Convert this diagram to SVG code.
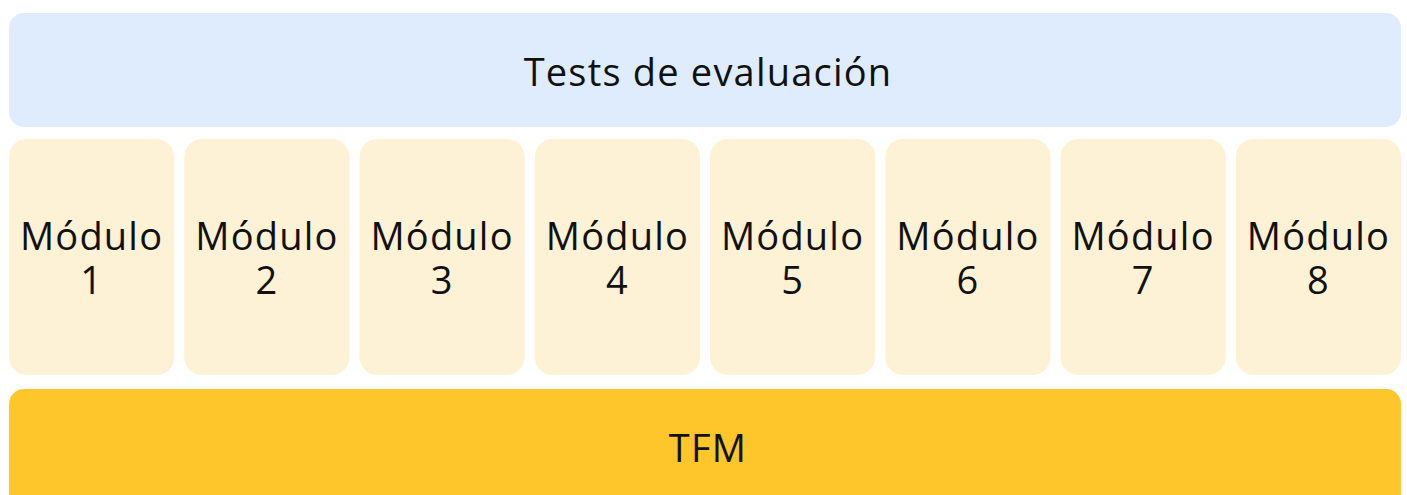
<svg xmlns="http://www.w3.org/2000/svg" width="1407" height="495" viewBox="0 0 1407 495">
<style>
.t{font-family:"Open Sans","Liberation Sans",sans-serif;font-size:38px;fill:#111;text-anchor:middle;letter-spacing:1.2px}
.m{fill:#FEF2D6}
</style>
<rect width="1407" height="495" fill="#fff"/>
<g id="tests"><rect x="9" y="13" width="1392" height="114" rx="15" fill="#DFECFE"/><text class="t" x="708" y="86">Tests de evaluación</text></g>
<g id="m1"><rect class="m" x="9" y="139" width="165.25" height="236" rx="18"/><text class="t" x="91.6" y="250">Módulo</text><text class="t" x="91.6" y="294">1</text></g>
<g id="m2"><rect class="m" x="184.25" y="139" width="165.25" height="236" rx="18"/><text class="t" x="266.9" y="250">Módulo</text><text class="t" x="266.9" y="294">2</text></g>
<g id="m3"><rect class="m" x="359.5" y="139" width="165.25" height="236" rx="18"/><text class="t" x="442.1" y="250">Módulo</text><text class="t" x="442.1" y="294">3</text></g>
<g id="m4"><rect class="m" x="534.75" y="139" width="165.25" height="236" rx="18"/><text class="t" x="617.4" y="250">Módulo</text><text class="t" x="617.4" y="294">4</text></g>
<g id="m5"><rect class="m" x="710" y="139" width="165.25" height="236" rx="18"/><text class="t" x="792.6" y="250">Módulo</text><text class="t" x="792.6" y="294">5</text></g>
<g id="m6"><rect class="m" x="885.25" y="139" width="165.25" height="236" rx="18"/><text class="t" x="967.9" y="250">Módulo</text><text class="t" x="967.9" y="294">6</text></g>
<g id="m7"><rect class="m" x="1060.5" y="139" width="165.25" height="236" rx="18"/><text class="t" x="1143.1" y="250">Módulo</text><text class="t" x="1143.1" y="294">7</text></g>
<g id="m8"><rect class="m" x="1235.75" y="139" width="165.25" height="236" rx="18"/><text class="t" x="1318.4" y="250">Módulo</text><text class="t" x="1318.4" y="294">8</text></g>
<g id="tfm"><rect x="9" y="389" width="1392" height="120" rx="15" fill="#FFC62B"/><text class="t" x="708" y="462">TFM</text></g>
<g id="connectors"/>
</svg>
